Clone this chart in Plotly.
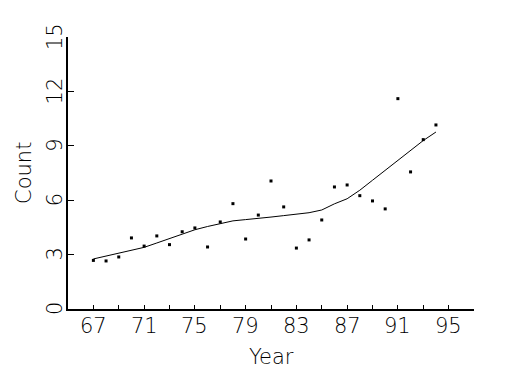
import plotly.graph_objects as go

years = list(range(67, 95))
counts = [2.68, 2.65, 2.87, 3.92, 3.47, 4.03, 3.55, 4.26, 4.47, 3.42,
          4.80, 5.81, 3.86, 5.18, 7.06, 5.63, 3.36, 3.81, 4.91, 6.73,
          6.84, 6.25, 5.96, 5.52, 11.60, 7.56, 9.34, 10.15]
smooth = [2.76, 2.92, 3.08, 3.24, 3.40, 3.64, 3.87, 4.12, 4.37, 4.55,
          4.72, 4.86, 4.93, 4.98, 5.07, 5.15, 5.24, 5.31, 5.46, 5.80,
          6.08, 6.55, 7.10, 7.65, 8.20, 8.78, 9.29, 9.76]
x_tickvals = list(range(65, 98, 2))
x_labelvals = [67, 71, 75, 79, 83, 87, 91, 95]
y_tickvals = [0, 3, 6, 9, 12, 15]

FONT = "DejaVu Sans"
TF = dict(family=FONT, size=21, color="black", weight=200)

fig = go.Figure()
fig.add_trace(go.Scatter(x=years, y=counts, mode="markers",
                         marker=dict(symbol="square", size=3, color="black", line=dict(width=0)),
                         showlegend=False))
fig.add_trace(go.Scatter(x=years, y=smooth, mode="lines",
                         line=dict(color="black", width=1), showlegend=False))

for v in x_labelvals:
    fig.add_annotation(x=v, xref="x", y=0, yref="paper", yanchor="top",
                       text=str(v), showarrow=False, font=TF, yshift=-3)
for v in y_tickvals:
    fig.add_annotation(x=0, xref="paper", y=v, yref="y", xanchor="center",
                       text=str(v), showarrow=False, font=TF, textangle=-90, xshift=-13)
fig.add_annotation(x=0.5, xref="paper", y=0, yref="paper", yanchor="top",
                   text="Year", showarrow=False, font=TF, yshift=-34)
fig.add_annotation(x=0, xref="paper", y=0.5, yref="paper", xanchor="center",
                   text="Count", showarrow=False, font=TF, textangle=-90, xshift=-44)

# page body has an 8px margin: shrink figure and margins so the plot lands where the reference's does
fig.update_layout(
    width=517, height=367,
    margin=dict(l=60, r=51, t=29, b=66),
    paper_bgcolor="white", plot_bgcolor="white",
    font=TF,
)
fig.update_xaxes(
    range=[65, 97], tickvals=x_tickvals, showticklabels=False,
    ticks="inside", ticklen=4, tickwidth=1, tickcolor="black",
    showline=True, linewidth=2, linecolor="black", showgrid=False, zeroline=False,
    automargin=False,
)
fig.update_yaxes(
    range=[0, 15], tickvals=y_tickvals, showticklabels=False,
    ticks="inside", ticklen=6, tickwidth=1, tickcolor="black",
    showline=True, linewidth=2, linecolor="black", showgrid=False, zeroline=False,
    automargin=False,
)
fig.write_html("out.html")
